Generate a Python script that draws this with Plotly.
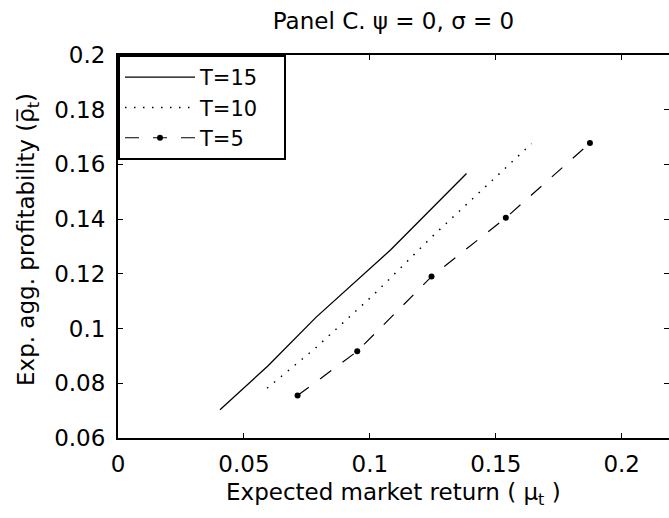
import plotly.graph_objects as go

# Expected market return (x) vs expected aggregate profitability (y)
mu_T15 = [0.0405, 0.0596, 0.0786, 0.1083, 0.1384]
rho_T15 = [0.0703, 0.0864, 0.1041, 0.1288, 0.1567]

mu_T10 = [0.0592, 0.0783, 0.1012, 0.1246, 0.1642]
rho_T10 = [0.0782, 0.0928, 0.1121, 0.1335, 0.1676]

mu_T5 = [0.0713, 0.0950, 0.1245, 0.1540, 0.1874]
rho_T5 = [0.0755, 0.0917, 0.1190, 0.1405, 0.1678]

series_names = ["T=15", "T=10", "T=5"]

x_ticks = [0, 0.05, 0.1, 0.15, 0.2]
x_tick_text = ["0", "0.05", "0.1", "0.15", "0.2"]
y_ticks = [0.06, 0.08, 0.1, 0.12, 0.14, 0.16, 0.18, 0.2]
y_tick_text = ["0.06", "0.08", "0.1", "0.12", "0.14", "0.16", "0.18", "0.2"]

FONT = "DejaVu Sans"
FS = 23
W, H = 669, 518
L, R, T, B = 118, 0, 55, 80
PW, PH = W - L - R, H - T - B

# legend labels get a little trailing padding so the box is wide enough
pad = "\u00a0\u00a0\u00a0"

fig = go.Figure()
fig.add_trace(go.Scatter(x=mu_T15, y=rho_T15, mode="lines", name=series_names[0] + pad,
                         line=dict(color="black", width=1.3)))
fig.add_trace(go.Scatter(x=mu_T10, y=rho_T10, mode="lines", name=series_names[1] + pad,
                         line=dict(color="black", width=1.5, dash="1.5px,7.5px")))
fig.add_trace(go.Scatter(x=mu_T5, y=rho_T5, mode="lines+markers", name=series_names[2] + pad,
                         line=dict(color="black", width=1.2, dash="14px,14px"),
                         marker=dict(color="black", size=6)))
# right-hand tick marks without an axis line
fig.add_trace(go.Scatter(x=[], y=[], yaxis="y2", showlegend=False))

axis_common = dict(showgrid=False, zeroline=False, ticks="inside", ticklen=5,
                   tickwidth=1, tickcolor="black",
                   tickfont=dict(family=FONT, size=FS, color="black"))

fig.update_layout(
    width=W, height=H,
    margin=dict(l=L, r=R, t=T, b=B, pad=0),
    paper_bgcolor="white", plot_bgcolor="white",
    font=dict(family=FONT, size=FS, color="black"),
    xaxis=dict(range=[0, 0.2188], tickvals=x_ticks, ticktext=x_tick_text,
               showline=True, linecolor="black", linewidth=2, mirror="ticks",
               ticklabelstandoff=4, **axis_common),
    yaxis=dict(range=[0.06, 0.2], tickvals=y_ticks, ticktext=y_tick_text,
               showline=True, linecolor="black", linewidth=2, mirror=False,
               ticklabelstandoff=6, **axis_common),
    yaxis2=dict(range=[0.06, 0.2], tickvals=y_ticks, overlaying="y", side="right",
                showticklabels=False, showline=False, **axis_common),
    showlegend=True,
    legend=dict(x=0, y=1, xanchor="left", yanchor="top",
                bgcolor="white", bordercolor="black", borderwidth=2,
                itemwidth=70, tracegroupgap=0,
                font=dict(family=FONT, size=21, color="black")),
    title=dict(text="Panel C. ψ = 0, σ = 0", x=(L + PW / 2) / W, xanchor="center",
               y=1 - 21 / H, yanchor="middle", yref="container",
               font=dict(family=FONT, size=FS, color="black")),
    annotations=[
        dict(text="Expected market return ( μ<sub>t</sub> )", xref="paper", yref="paper",
             x=0.5, y=-(494 - (H - B)) / PH, xanchor="center", yanchor="middle",
             showarrow=False, font=dict(family=FONT, size=FS, color="black")),
        dict(text="Exp. agg. profitability (ρ\u0305<sub>t</sub>)", xref="paper", yref="paper",
             x=-(L - 28) / PW, y=1 - (240 - T) / PH, xanchor="center", yanchor="middle",
             textangle=-90, showarrow=False, font=dict(family=FONT, size=FS, color="black")),
    ],
)

fig.write_html("out.html")
